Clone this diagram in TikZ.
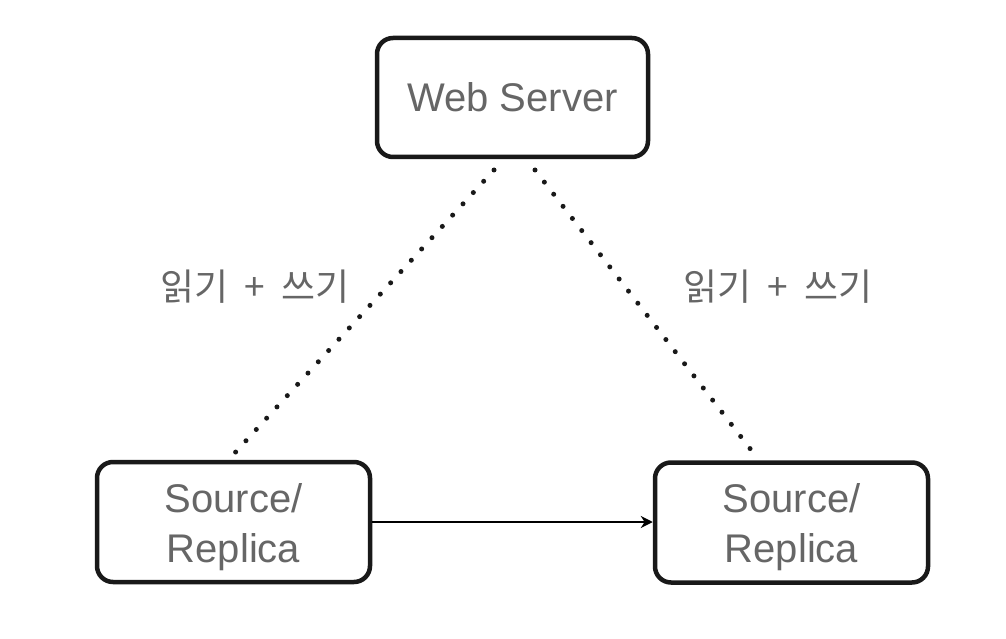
\documentclass[tikz,border=0pt]{standalone}
\usepackage{fontspec}
\setmainfont{Liberation Sans}
\newfontfamily\krfont{Noto Sans CJK KR}
\usetikzlibrary{arrows.meta}
\definecolor{txt}{HTML}{666666}
\newcommand{\twolines}[2]{\begin{tabular}{@{}c@{}}\rule{0pt}{45pt}#1\\#2\end{tabular}}
\tikzset{
  box/.style={draw=black!90, line width=4.5pt, rounded corners=16pt, fill=white,
    text=txt, font=\fontsize{40}{50}\selectfont, align=center, inner sep=0pt},
  dotline/.style={line width=5pt, line cap=round, dash pattern=on 0pt off 15.3pt, black!90},
  lbl/.style={text=txt, font=\krfont\fontsize{37}{40}\selectfont, inner sep=0pt},
  conn/.style={line width=2pt, -{Stealth[length=12pt,width=12pt]}}
}
\begin{document}
\begin{tikzpicture}[x=1pt,y=1pt]
\useasboundingbox (0,0) rectangle (1006,638);
\node[box, minimum width=271pt, minimum height=119pt] (web) at (512.5,540.5) {Web Server};
\node[box, minimum width=273pt, minimum height=120pt] (src1) at (233.5,116) {\twolines{Source/}{Replica}};
\node[box, minimum width=273pt, minimum height=120pt] (src2) at (791.5,115.5) {\twolines{Source/}{Replica}};
\coordinate (w1) at (494,468);
\coordinate (w2) at (535,468);
\coordinate (s1) at (232,182);
\coordinate (s2) at (755,183);
\draw[dotline] (w1) -- (s1);
\draw[dotline] (w2) -- (s2);
\draw[conn] (src1.east) -- (src1.east -| src2.west);
\node[lbl] (l1) at (255,351) {읽기\hspace{0.45em}+\hspace{0.45em}쓰기};
\node[lbl] (l2) at (778,351) {읽기\hspace{0.45em}+\hspace{0.45em}쓰기};
\end{tikzpicture}
\end{document}
